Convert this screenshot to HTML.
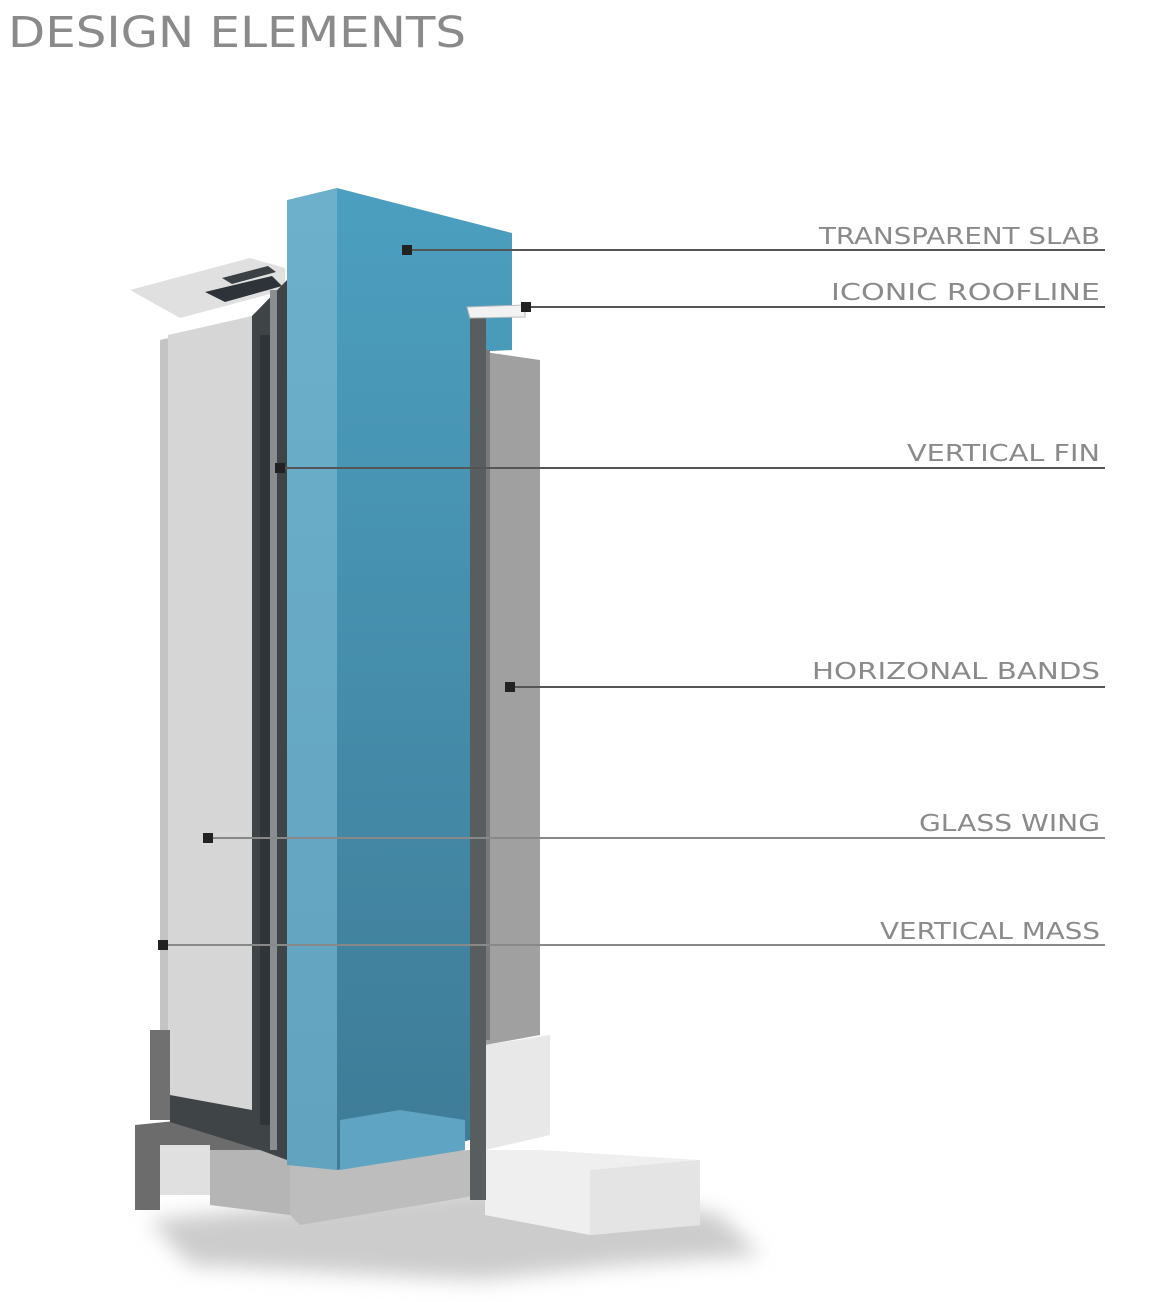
<!DOCTYPE html>
<html><head><meta charset="utf-8"><style>
html,body{margin:0;padding:0;background:#fff;}
svg{display:block;}
text{font-family:"DejaVu Sans","Liberation Sans",sans-serif;fill:#8a8a8a;}
</style></head><body>
<svg width="1152" height="1302" viewBox="0 0 1152 1302" xmlns="http://www.w3.org/2000/svg">
<defs>
<filter id="blur" x="-20%" y="-50%" width="140%" height="200%"><feGaussianBlur stdDeviation="10"/></filter>
<linearGradient id="blueF" x1="0" y1="0" x2="0" y2="1"><stop offset="0" stop-color="#4c9fc0"/><stop offset="1" stop-color="#3e7b96"/></linearGradient>
<linearGradient id="blueS" x1="0" y1="0" x2="0" y2="1"><stop offset="0" stop-color="#6cb0cc"/><stop offset="1" stop-color="#62a3bf"/></linearGradient>
</defs>
<text x="8" y="47" font-size="43" textLength="458" lengthAdjust="spacingAndGlyphs">DESIGN ELEMENTS</text>

<!-- shadow -->
<polygon points="150,1220 540,1180 720,1215 760,1255 620,1265 480,1280 190,1265" fill="#cccccc" filter="url(#blur)"/>

<!-- right base slab -->
<polygon points="485,1150 540,1150 700,1160 700,1225 590,1235 485,1215" fill="#efefef"/>
<polygon points="590,1170 700,1160 700,1225 590,1235" fill="#e4e4e4"/>
<!-- right lower white block -->
<polygon points="485,1045 550,1035 550,1135 485,1150" fill="#e8e8e8"/>
<!-- grey right panel -->
<polygon points="485,352 540,360 540,1035 485,1045" fill="#a0a0a0"/>

<!-- left canopy -->
<polygon points="130,290 250,258 285,268 285,290 180,318" fill="#e0e0e0"/>
<polygon points="205,292 272,276 282,286 225,302" fill="#2d3338"/>
<polygon points="222,278 268,266 276,272 232,284" fill="#3a4044"/>
<!-- left glass wing -->
<polygon points="160,340 255,318 255,1030 160,1060" fill="#c4c4c4"/>
<polygon points="168,335 252,316 252,1110 168,1095" fill="#d6d6d6"/>
<!-- left lower structure -->
<polygon points="150,1030 170,1030 170,1120 150,1120" fill="#707070"/>
<polygon points="135,1125 285,1110 285,1150 160,1165 160,1210 135,1210" fill="#6c6c6c"/>
<polygon points="160,1145 210,1145 210,1195 160,1195" fill="#e0e0e0"/>
<polygon points="210,1150 290,1150 290,1215 210,1205" fill="#b5b5b5"/>
<polygon points="290,1160 470,1150 480,1195 300,1225 290,1215" fill="#bdbdbd"/>
<!-- dark frame -->
<polygon points="252,316 287,280 287,1160 260,1150 170,1122 170,1095 252,1110" fill="#3f4447"/>
<rect x="270" y="290" width="7" height="860" fill="#8a8e90"/>
<rect x="260" y="335" width="10" height="790" fill="#2f3538"/>

<!-- blue slab -->
<polygon points="287,200 337,188 337,1170 287,1165" fill="url(#blueS)"/>
<polygon points="337,188 512,233 512,350 470,352 470,1140 337,1170" fill="url(#blueF)"/>
<!-- blue step at base -->
<polygon points="340,1120 400,1110 465,1120 465,1150 340,1170" fill="#5fa5c3"/>
<!-- fin -->
<rect x="470" y="312" width="16" height="888" fill="#585d60"/>
<rect x="486" y="350" width="4" height="690" fill="#7a7a7a"/>
<!-- roofline -->
<polygon points="467,307 525,305 525,317 470,318" fill="#f2f2f2" stroke="#bbb" stroke-width="1"/>

<!-- leader lines -->
<g stroke="#555" stroke-width="2">
<line x1="407" y1="250" x2="1105" y2="250"/>
<line x1="526" y1="307" x2="1105" y2="307"/>
<line x1="280" y1="468" x2="1105" y2="468"/>
<line x1="510" y1="687" x2="1105" y2="687"/>
<line x1="208" y1="838" x2="1105" y2="838" stroke="#888"/>
<line x1="163" y1="945" x2="1105" y2="945" stroke="#888"/>
</g>
<g fill="#222">
<rect x="402" y="245" width="10" height="10"/>
<rect x="521" y="302" width="10" height="10"/>
<rect x="275" y="463" width="10" height="10"/>
<rect x="505" y="682" width="10" height="10"/>
<rect x="203" y="833" width="10" height="10"/>
<rect x="158" y="940" width="10" height="10"/>
</g>
<g font-size="23">
<text x="819" y="244" textLength="281" lengthAdjust="spacingAndGlyphs">TRANSPARENT SLAB</text>
<text x="831" y="300" textLength="269" lengthAdjust="spacingAndGlyphs">ICONIC ROOFLINE</text>
<text x="907" y="461" textLength="193" lengthAdjust="spacingAndGlyphs">VERTICAL FIN</text>
<text x="812" y="679" textLength="288" lengthAdjust="spacingAndGlyphs">HORIZONAL BANDS</text>
<text x="919" y="831" textLength="181" lengthAdjust="spacingAndGlyphs">GLASS WING</text>
<text x="880" y="939" textLength="220" lengthAdjust="spacingAndGlyphs">VERTICAL MASS</text>
</g>
</svg>
</body></html>
